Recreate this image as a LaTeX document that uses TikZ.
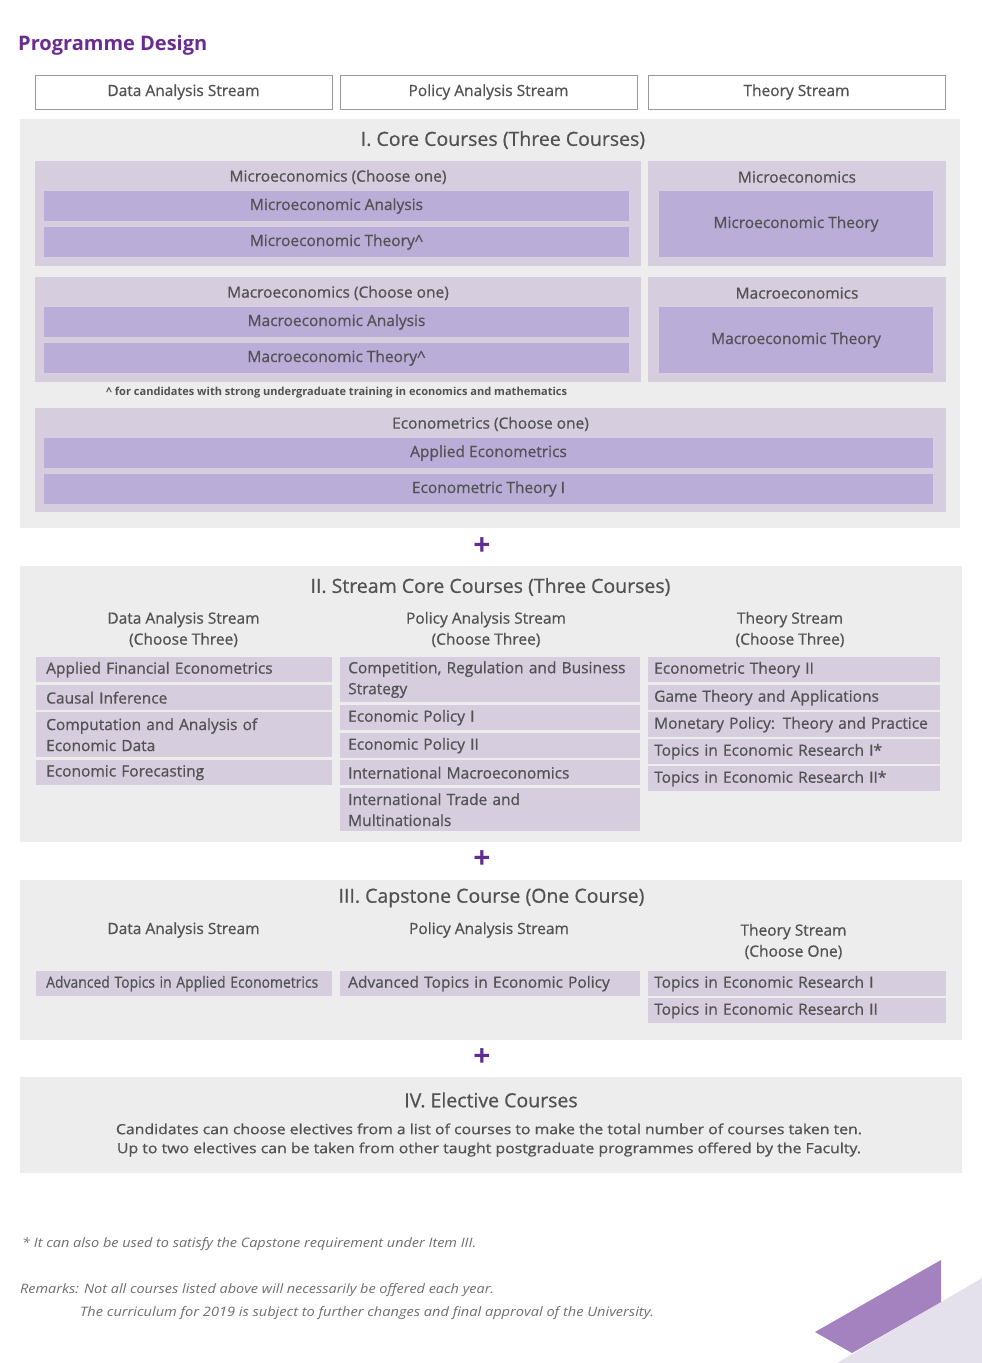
\documentclass[tikz,border=0pt]{standalone}
\usepackage{fontspec}
\setmainfont{Open Sans}[UprightFeatures={FakeBold=0.7}]
\usepackage{graphicx}
\definecolor{txt}{HTML}{525254}
\definecolor{foot}{HTML}{6E6E70}
\definecolor{secbg}{HTML}{EDEDED}
\definecolor{grpbg}{HTML}{D6CEDE}
\definecolor{barbg}{HTML}{BAAED9}
\definecolor{titlepurple}{HTML}{6A2C8E}
\definecolor{pluspurple}{HTML}{5E2D8F}
\definecolor{cornerdk}{HTML}{A382BF}
\definecolor{cornerlt}{HTML}{E4E1EC}
\newcommand{\squeeze}[2]{\resizebox{#1}{\height}{#2}}
\newcommand{\bodyfont}{\fontsize{15.5}{21}\selectfont}
\begin{document}
\begin{tikzpicture}[x=1pt,y=-1pt,
    hdr/.style={draw=gray!80, fill=white, minimum width=297pt, minimum height=34pt, font=\bodyfont, text=txt},
    sectitle/.style={font=\fontsize{19.5}{23}\selectfont, text=txt},
    lbl/.style={font=\bodyfont, text=txt, align=center, inner sep=0pt},
    bar/.style={fill=barbg, font=\bodyfont, text=txt, inner sep=0pt},
    item/.style={fill=grpbg, anchor=north west, inner ysep=0pt, align=left, font=\bodyfont, text=txt, minimum height=25pt},
    dcol/.style={item, inner xsep=10pt, text width=276pt},
    pcol/.style={item, inner xsep=8pt, text width=284pt},
    tcol/.style={item, inner xsep=6pt, text width=280pt},
    plus/.style={font=\fontsize{30}{30}\bfseries, text=pluspurple, inner sep=0pt},
    footnote/.style={font=\fontsize{13}{16}\itshape, text=foot, anchor=west, inner sep=0pt}]
  \fill[white] (0,0) rectangle (982,1363);
  \useasboundingbox (0,0) rectangle (982,1363);

  % heading and streams
  \node[anchor=west, inner sep=0pt, font=\fontsize{20}{24}\bfseries, text=titlepurple] (title) at (18,45) {Programme Design};
  \node[hdr] (hdata) at (183.5,92) {Data Analysis Stream};
  \node[hdr] (hpolicy) at (488.5,92) {Policy Analysis Stream};
  \node[hdr] (htheory) at (796.5,92) {Theory Stream};

  % I. core courses
  \fill[secbg] (20,119) rectangle (960,528);
  \node[sectitle] (coretitle) at (503,140) {I. Core Courses (Three Courses)};
  \fill[grpbg] (35,161) rectangle (641,266);
  \fill[grpbg] (648,161) rectangle (946,266);
  \fill[grpbg] (35,277) rectangle (641,382);
  \fill[grpbg] (648,277) rectangle (946,382);
  \fill[grpbg] (35,408) rectangle (946,512);
  \node[lbl] (microlbl) at (338,177) {Microeconomics (Choose one)};
  \node[bar, minimum width=585pt, minimum height=30pt] (microA) at (336.5,206) {Microeconomic Analysis};
  \node[bar, minimum width=585pt, minimum height=30pt] (microT) at (336.5,242) {Microeconomic Theory\textasciicircum};
  \node[lbl] (microlblR) at (797,177) {Microeconomics};
  \node[bar, minimum width=274pt, minimum height=66pt] (microR) at (796,224) {Microeconomic Theory};
  \node[lbl] (macrolbl) at (338,293) {Macroeconomics (Choose one)};
  \node[bar, minimum width=585pt, minimum height=30pt] (macroA) at (336.5,322) {Macroeconomic Analysis};
  \node[bar, minimum width=585pt, minimum height=30pt] (macroT) at (336.5,358) {Macroeconomic Theory\textasciicircum};
  \node[lbl] (macrolblR) at (797,293) {Macroeconomics};
  \node[bar, minimum width=274pt, minimum height=66pt] (macroR) at (796,340) {Macroeconomic Theory};
  \node[anchor=west, inner sep=0pt, font=\fontsize{11}{12}\bfseries, text=txt] (caret) at (106,393)
    {\squeeze{461pt}{\textasciicircum{} for candidates with strong undergraduate training in economics and mathematics}};
  \node[lbl] (metricslbl) at (490.5,424) {Econometrics (Choose one)};
  \node[bar, minimum width=889pt, minimum height=30pt] (metricsA) at (488.5,453) {Applied Econometrics};
  \node[bar, minimum width=889pt, minimum height=30pt] (metricsT) at (488.5,489) {Econometric Theory I};

  \node[plus] (plusA) at (482,547) {+};

  % II. stream core courses
  \fill[secbg] (20,566) rectangle (962,842);
  \node[sectitle] (streamtitle) at (490.5,587) {II. Stream Core Courses (Three Courses)};
  \node[lbl] (sdata) at (183.5,629.5) {Data Analysis Stream\\(Choose Three)};
  \node[lbl] (spolicy) at (486,629.5) {Policy Analysis Stream\\(Choose Three)};
  \node[lbl] (stheory) at (790,629.5) {Theory Stream\\(Choose Three)};
  \node[dcol] (d1) at (36,657) {Applied Financial Econometrics};
  \node[dcol] (d2) at (36,685) {Causal Inference};
  \node[dcol, minimum height=45pt] (d3) at (36,712) {Computation and Analysis of\\Economic Data};
  \node[dcol] (d4) at (36,760) {Economic Forecasting};
  \node[pcol, minimum height=45pt] (p1) at (340,657) {Competition, Regulation and Business\\Strategy};
  \node[pcol] (p2) at (340,705) {Economic Policy I};
  \node[pcol] (p3) at (340,733) {Economic Policy II};
  \node[pcol] (p4) at (340,760) {International Macroeconomics};
  \node[pcol, minimum height=43pt] (p5) at (340,788) {International Trade and\\Multinationals};
  \node[tcol] (t1) at (648,657) {Econometric Theory II};
  \node[tcol] (t2) at (648,685) {Game Theory and Applications};
  \node[tcol] (t3) at (648,712) {Monetary Policy: Theory and Practice};
  \node[tcol] (t4) at (648,739) {Topics in Economic Research I*};
  \node[tcol] (t5) at (648,766) {Topics in Economic Research II*};

  \node[plus] (plusB) at (482,860) {+};

  % III. capstone
  \fill[secbg] (20,880) rectangle (962,1040);
  \node[sectitle] (captitle) at (491.5,898) {III. Capstone Course (One Course)};
  \node[lbl] (cdata) at (183.5,930) {Data Analysis Stream};
  \node[lbl] (cpolicy) at (489,930) {Policy Analysis Stream};
  \node[lbl] (ctheory) at (793.5,941.5) {Theory Stream\\(Choose One)};
  \node[dcol] (cd1) at (36,971) {\squeeze{272pt}{Advanced Topics in Applied Econometrics}};
  \node[pcol] (cp1) at (340,971) {Advanced Topics in Economic Policy};
  \node[tcol, text width=286pt] (ct1) at (648,971) {Topics in Economic Research I};
  \node[tcol, text width=286pt] (ct2) at (648,998) {Topics in Economic Research II};

  \node[plus] (plusC) at (482,1058) {+};

  % IV. electives
  \fill[secbg] (20,1077) rectangle (962,1173);
  \node[sectitle] (electitle) at (491,1100) {IV. Elective Courses};
  \node[lbl, font=\fontsize{14}{19}\selectfont] (electext) at (489,1140)
    {\squeeze{746pt}{Candidates can choose electives from a list of courses to make the total number of courses taken ten.}\\
     \squeeze{744pt}{Up to two electives can be taken from other taught postgraduate programmes offered by the Faculty.}};

  % notes
  \node[footnote] (star) at (22,1244) {\squeeze{454pt}{* It can also be used to satisfy the Capstone requirement under Item III.}};
  \node[footnote] (remark) at (20,1290) {\squeeze{474pt}{Remarks: Not all courses listed above will necessarily be offered each year.}};
  \node[footnote] (remarkB) at (80,1313) {\squeeze{574pt}{The curriculum for 2019 is subject to further changes and final approval of the University.}};

  % corner
  \fill[cornerlt] (837,1363) -- (982,1278) -- (982,1363) -- cycle;
  \fill[cornerdk] (815,1332) -- (941,1260) -- (941,1302) -- (852,1353) -- cycle;
\end{tikzpicture}
\end{document}
